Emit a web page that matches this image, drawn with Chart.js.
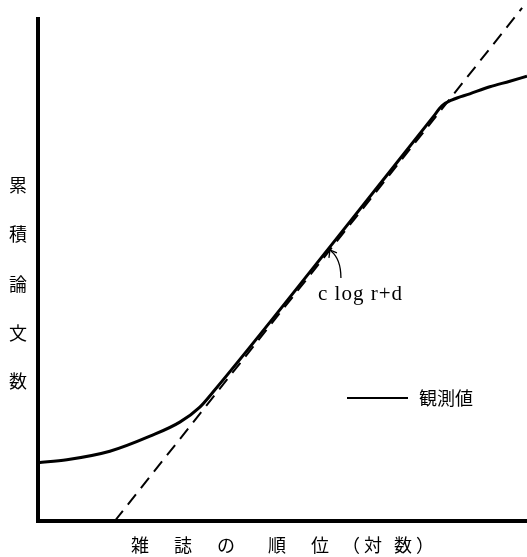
<!DOCTYPE html>
<html>
<head>
<meta charset="utf-8">
<script src="https://cdn.jsdelivr.net/npm/chart.js@4.4.0/dist/chart.umd.min.js"></script>
<style>
  html, body { margin: 0; padding: 0; background: #fff; }
  #wrap { width: 527px; height: 557px; }
</style>
</head>
<body>
<div id="wrap"><canvas id="c" width="527" height="557"></canvas></div>
<script>
// observed cumulative curve (x = log rank, y = cumulative papers), arbitrary units
const observedX = [0, 0.59, 1.47, 2.29, 2.90, 3.31, 3.58, 5.97, 8.08, 8.26, 8.47, 8.83, 9.24, 9.65, 10.0];
const observedY = [1.16, 1.22, 1.39, 1.69, 1.97, 2.27, 2.57, 5.46, 8.05, 8.27, 8.39, 8.51, 8.65, 8.76, 8.86];
// fitted straight line c log r + d
const fitX = [1.57, 9.90];
const fitY = [0, 10.22];
// where the annotation arrow points
const arrowTip = [5.97, 5.42];

const yLabel = ['累', '積', '論', '文', '数'];
const xLabel = ['雑', '誌', 'の', '順', '位', '（', '対', '数', '）'];
const legendLabel = '観測値';
const fitLabel = 'c log r+d';

function toPoints(xs, ys) {
  return xs.map(function (x, i) { return { x: x, y: ys[i] }; });
}

const cjk = '"Noto Sans CJK JP", "Noto Sans", sans-serif';

const extras = {
  id: 'extras',
  afterDraw: function (chart) {
    const ctx = chart.ctx;
    const xs = chart.scales.x, ys = chart.scales.y;
    ctx.save();
    ctx.fillStyle = '#000';
    ctx.strokeStyle = '#000';

    // y axis title, vertical characters
    ctx.font = '18px ' + cjk;
    ctx.textAlign = 'center';
    ctx.textBaseline = 'middle';
    const yPos = [185, 234, 284, 333, 381];
    yLabel.forEach(function (ch, i) { ctx.fillText(ch, 18, yPos[i]); });

    // x axis title
    const xPos = [140, 183, 226, 277, 320, 351, 373, 403, 425];
    xLabel.forEach(function (ch, i) { ctx.fillText(ch, xPos[i], 545); });

    // legend
    ctx.lineWidth = 2;
    ctx.beginPath();
    ctx.moveTo(347, 398);
    ctx.lineTo(408, 398);
    ctx.stroke();
    ctx.textAlign = 'left';
    ctx.font = '18px ' + cjk;
    ctx.fillText(legendLabel, 419, 398);

    // fitted-line annotation
    ctx.font = '21px "Liberation Serif", "DejaVu Serif", serif';
    ctx.letterSpacing = '1px';
    ctx.fillText(fitLabel, 318, 294);
    ctx.letterSpacing = '0px';
    const tx = xs.getPixelForValue(arrowTip[0]);
    const ty = ys.getPixelForValue(arrowTip[1]);
    ctx.lineWidth = 1.3;
    ctx.beginPath();
    ctx.moveTo(tx + 11, ty + 29);
    ctx.quadraticCurveTo(tx + 11, ty + 10, tx + 1, ty + 2);
    ctx.stroke();
    ctx.beginPath();
    ctx.moveTo(tx - 1, ty + 9);
    ctx.lineTo(tx, ty + 1);
    ctx.lineTo(tx + 7, ty + 4);
    ctx.stroke();
    ctx.restore();
  }
};

new Chart(document.getElementById('c'), {
  type: 'line',
  data: {
    datasets: [
      {
        label: legendLabel,
        data: toPoints(observedX, observedY),
        borderColor: '#000',
        borderWidth: 3,
        pointRadius: 0,
        cubicInterpolationMode: 'monotone',
        clip: false,
      },
      {
        label: fitLabel,
        data: toPoints(fitX, fitY),
        borderColor: '#000',
        borderWidth: 2,
        borderDash: [13, 8],
        pointRadius: 0,
        clip: false,
      },
    ],
  },
  options: {
    responsive: false,
    animation: false,
    devicePixelRatio: 1,
    layout: { padding: { left: 30, right: 0, top: 19, bottom: 28 } },
    plugins: { legend: { display: false }, tooltip: { enabled: false } },
    scales: {
      x: {
        type: 'linear',
        min: 0,
        max: 10,
        ticks: { display: false },
        grid: { display: false },
        border: { display: true, color: '#000', width: 4 },
      },
      y: {
        type: 'linear',
        min: 0,
        max: 10,
        ticks: { display: false },
        grid: { display: false },
        border: { display: true, color: '#000', width: 4 },
      },
    },
  },
  plugins: [extras],
});
</script>
</body>
</html>
